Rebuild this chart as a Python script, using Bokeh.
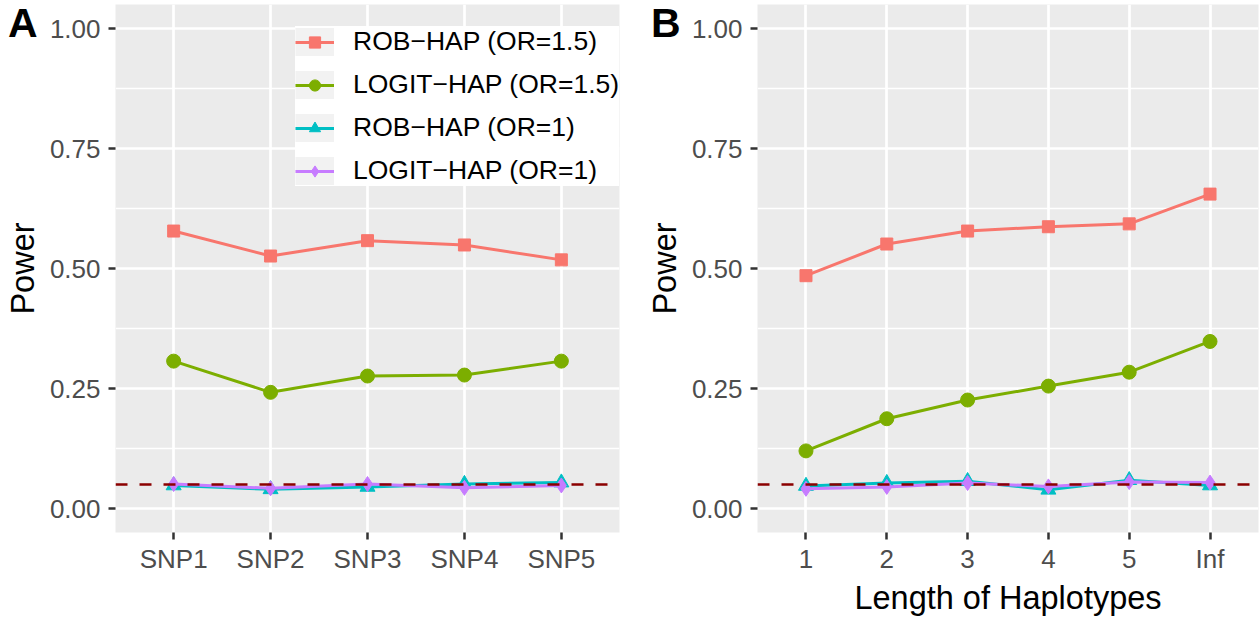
from bokeh.plotting import figure
from bokeh.models import (Range1d, FixedTicker, Span, Legend, LegendItem, Div,
                          NumeralTickFormatter, ColumnDataSource, GridBox)
from bokeh.embed import file_html
from bokeh.resources import INLINE

# ---------------- data ----------------
snp_labels = ["SNP1", "SNP2", "SNP3", "SNP4", "SNP5"]
hap_labels = ["1", "2", "3", "4", "5", "Inf"]

a_rob_15 = [0.578, 0.526, 0.558, 0.549, 0.518]
a_logit_15 = [0.307, 0.242, 0.276, 0.278, 0.307]
a_rob_1 = [0.048, 0.040, 0.045, 0.051, 0.054]
a_logit_1 = [0.051, 0.042, 0.051, 0.043, 0.048]

b_rob_15 = [0.485, 0.551, 0.578, 0.587, 0.593, 0.655]
b_logit_15 = [0.120, 0.187, 0.226, 0.255, 0.284, 0.348]
b_rob_1 = [0.047, 0.053, 0.057, 0.039, 0.059, 0.048]
b_logit_1 = [0.041, 0.045, 0.053, 0.046, 0.055, 0.054]

series_names = ["ROB\u2212HAP (OR=1.5)", "LOGIT\u2212HAP (OR=1.5)",
                "ROB\u2212HAP (OR=1)", "LOGIT\u2212HAP (OR=1)"]
colors = ["#F8766D", "#7CAE00", "#00BFC4", "#C77CFF"]
markers = ["square", "circle", "triangle", "diamond"]
marker_sizes = [12, 14, 15, 15]

y_ticks = [0, 0.25, 0.5, 0.75, 1.0]
y_minor = [0.125, 0.375, 0.625, 0.875]
null_level = 0.05
panel_tags = ["A", "B"]

FONT = "Liberation Sans"
FIG_H = 618
W_A, W_B = 642, 618


def make_panel(labels, series, width, bl, br, xlabel, legend=False):
    xs = list(range(1, len(labels) + 1))
    p = figure(width=width, height=FIG_H, output_backend="svg", toolbar_location=None,
               x_range=Range1d(0.4, len(labels) + 0.6), y_range=Range1d(-0.05, 1.05),
               min_border_left=bl, min_border_right=br, min_border_top=4,
               min_border_bottom=84)
    p.background_fill_color = "#EBEBEB"
    p.border_fill_color = "white"
    p.outline_line_color = None

    xt = FixedTicker(ticks=xs)
    yt = FixedTicker(ticks=y_ticks, minor_ticks=y_minor)
    p.xaxis.ticker = xt
    p.yaxis.ticker = yt
    p.xgrid[0].ticker = xt
    p.ygrid[0].ticker = yt
    p.xaxis.major_label_overrides = {x: lab for x, lab in zip(xs, labels)}
    p.yaxis.formatter = NumeralTickFormatter(format="0.00")

    p.grid.grid_line_color = "white"
    p.grid.grid_line_width = 2.7
    p.ygrid.minor_grid_line_color = "white"
    p.ygrid.minor_grid_line_width = 1.3

    p.axis.axis_line_color = None
    p.axis.major_tick_line_color = "#333333"
    p.axis.major_tick_line_width = 2.5
    p.axis.major_tick_out = 7
    p.axis.major_tick_in = 0
    p.axis.minor_tick_line_color = None
    p.axis.major_label_text_font = FONT
    p.axis.major_label_text_font_size = "26px"
    p.axis.major_label_text_color = "#4D4D4D"
    p.xaxis.major_label_standoff = 4
    p.yaxis.major_label_standoff = 8
    p.axis.axis_label_text_font = FONT
    p.axis.axis_label_text_font_size = "32.5px"
    p.axis.axis_label_text_font_style = "normal"
    p.axis.axis_label_text_color = "black"
    p.yaxis.axis_label = "Power"
    p.yaxis.axis_label_standoff = 6
    if xlabel:
        p.xaxis.axis_label = xlabel
        p.xaxis.axis_label_standoff = 3

    # legend-key background helper (draws nothing in the plot: no finite y values)
    bg = p.line(x=xs[:1], y=[float("nan")], line_color="#F2F2F2", line_width=39)

    items = []
    for name, vals, c, m, s in zip(series_names, series, colors, markers, marker_sizes):
        src = ColumnDataSource(data=dict(x=xs, y=vals))
        lr = p.line("x", "y", source=src, line_color=c, line_width=3)
        sr = p.scatter("x", "y", source=src, marker=m, size=s, fill_color=c, line_color=c)
        items.append(LegendItem(label=name, renderers=[bg, lr, sr]))

    p.add_layout(Span(location=null_level, dimension="width", line_color="#8B0000",
                      line_dash="12 12", line_width=2.7))

    if legend:
        lg = Legend(items=items, location=(180, 346), glyph_width=39, glyph_height=28,
                    label_height=28, spacing=12, padding=22, margin=0, label_standoff=19,
                    label_text_font=FONT, label_text_font_size="26.5px",
                    label_text_color="black", background_fill_color="white",
                    background_fill_alpha=1.0, border_line_color=None)
        p.add_layout(lg)
    return p


def make_tag(text, left):
    html = ('<div style="margin:0;padding:0;margin-left:%dpx;font-family:\'%s\';'
            'font-size:41px;font-weight:bold;line-height:46px;color:#000000;">%s</div>'
            % (left, FONT, text))
    return Div(text=html, width=60, height=50, margin=0)


pa = make_panel(snp_labels, [a_rob_15, a_logit_15, a_rob_1, a_logit_1],
                W_A, 115, 23, None, legend=True)
pb = make_panel(hap_labels, [b_rob_15, b_logit_15, b_rob_1, b_logit_1],
                W_B, 115, 2, "Length of Haplotypes")
ta = make_tag(panel_tags[0], 8)
tb = make_tag(panel_tags[1], 9)

layout = GridBox(children=[(pa, 0, 0), (pb, 0, 1), (ta, 0, 0), (tb, 0, 1)])
open("out.html", "w").write(file_html(layout, INLINE))
